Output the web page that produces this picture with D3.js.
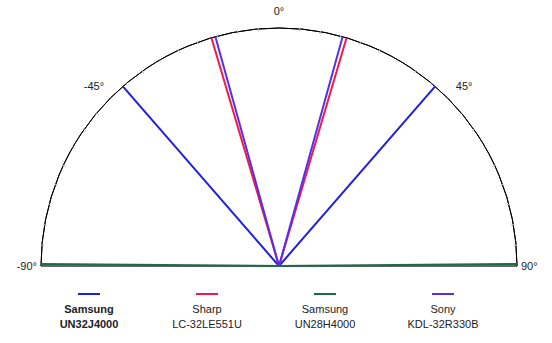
<!DOCTYPE html>
<html>
<head>
<meta charset="utf-8">
<script src="https://cdn.jsdelivr.net/npm/d3@7"></script>
<style>
  body { margin: 0; background: #fff; }
  text { font-family: "Liberation Sans", Arial, sans-serif; }
</style>
</head>
<body>
<div id="chart"></div>
<script>
// viewing angle per TV (degrees either side of 0)
const brands = ["Samsung", "Sharp", "Samsung", "Sony"];
const modelNames = ["UN32J4000", "LC-32LE551U", "UN28H4000", "KDL-32R330B"];
const viewAngles = [41, 16.5, 89.5, 15.5];
const seriesColors = ["#1f1fe0", "#ee1a4c", "#1d6b45", "#5a2ee8"];
const angleTicks = [-90, -45, 0, 45, 90];
const angleLabels = ["-90°", "-45°", "0°", "45°", "90°"];

const width = 552, height = 343;
const cx = 279, cy = 266, R = 238;

const svg = d3.select("#chart").append("svg")
    .attr("width", width)
    .attr("height", height);

// angle in degrees -> radians (0 = straight up)
const a = d3.scaleLinear().domain([-90, 90]).range([-Math.PI / 2, Math.PI / 2]);
const r = d3.scaleLinear().domain([0, 1]).range([0, R]);

const g = svg.append("g").attr("transform", "translate(" + cx + "," + cy + ")");

function px(deg, k) { return r(k) * Math.sin(a(deg)); }
function py(deg, k) { return -r(k) * Math.cos(a(deg)); }

// outer arc
g.append("path")
    .attr("d", d3.arc()({ innerRadius: r(1), outerRadius: r(1), startAngle: a(-90), endAngle: a(90) }))
    .attr("fill", "none")
    .attr("stroke", "#000")
    .attr("stroke-width", 1);

// small ticks
g.selectAll("line.tick")
    .data(d3.range(-85, 90, 5).filter(d => d % 45 !== 0))
    .enter().append("line")
    .attr("class", "tick")
    .attr("x1", d => px(d, 1.005))
    .attr("y1", d => py(d, 1.005))
    .attr("x2", d => px(d, 0.99))
    .attr("y2", d => py(d, 0.99))
    .attr("stroke", "#bbb")
    .attr("stroke-width", 1);

// baseline
g.append("line")
    .attr("x1", px(-90, 1)).attr("y1", 0)
    .attr("x2", px(90, 1)).attr("y2", 0)
    .attr("stroke", "#333")
    .attr("stroke-width", 1.5);

// series: a wedge (two rays) per TV
const rays = [];
viewAngles.forEach((v, i) => {
    rays.push({ i: i, deg: -v });
    rays.push({ i: i, deg: v });
});
g.selectAll("line.ray")
    .data(rays)
    .enter().append("line")
    .attr("class", "ray")
    .attr("x1", 0).attr("y1", 0)
    .attr("x2", d => px(d.deg, 1))
    .attr("y2", d => py(d.deg, 1))
    .attr("stroke", d => seriesColors[d.i])
    .attr("stroke-width", 2);

// angle labels
g.selectAll("text.alab")
    .data(angleTicks)
    .enter().append("text")
    .attr("class", "alab")
    .attr("x", (d, i) => Math.abs(d) === 90 ? px(d, 1) + (d < 0 ? -4 : 4) : px(d, 1.1))
    .attr("y", (d, i) => Math.abs(d) === 90 ? 4 : py(d, 1.07) + 4)
    .attr("text-anchor", d => d === -90 ? "end" : d === 90 ? "start" : "middle")
    .attr("font-size", 11)
    .attr("fill", "#222")
    .text((d, i) => angleLabels[i]);

// legend
const lx = d3.scalePoint().domain(d3.range(brands.length)).range([89, 443]);
const leg = svg.selectAll("g.leg")
    .data(brands)
    .enter().append("g")
    .attr("class", "leg")
    .attr("transform", (d, i) => "translate(" + lx(i) + ",0)");
leg.append("line")
    .attr("x1", -11).attr("x2", 11)
    .attr("y1", 294).attr("y2", 294)
    .attr("stroke", (d, i) => seriesColors[i])
    .attr("stroke-width", 2);
leg.append("text")
    .attr("y", 313)
    .attr("text-anchor", "middle")
    .attr("font-size", 11)
    .attr("font-weight", (d, i) => i === 0 ? "bold" : "normal")
    .attr("fill", "#222")
    .text(d => d);
leg.append("text")
    .attr("y", 328)
    .attr("text-anchor", "middle")
    .attr("font-size", 11)
    .attr("font-weight", (d, i) => i === 0 ? "bold" : "normal")
    .attr("fill", "#222")
    .text((d, i) => modelNames[i]);
</script>
</body>
</html>
